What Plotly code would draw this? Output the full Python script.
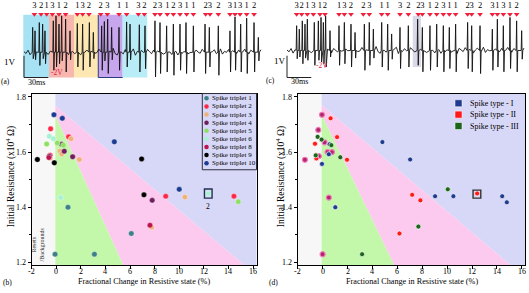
import plotly.graph_objects as go

W, H = 529, 293
SERIF = "Liberation Serif"

# ---------------- top panels (a) and (c): spike trains ----------------
SPIKE_LABELS = ["3", "2", "1", "3", "1", "2", "1", "3", "2", "2", "3", "1", "1", "3", "2",
                "2", "3", "1", "2", "3", "1", "1", "2", "3", "2", "3", "1", "3", "1", "2"]
A_MARK_T = [12.8, 21.0, 28.0, 35.0, 43.2, 51.4, 65.8, 72.4, 80.2, 94.7, 102.9, 117.3, 126.7,
            141.2, 148.6, 161.7, 167.9, 176.9, 184.4, 192.6, 200.8, 209.1, 224.3, 229.6,
            239.9, 254.3, 260.5, 266.7, 274.9, 284.0]
C_MARK_T = [11.9, 18.1, 25.1, 32.5, 40.7, 46.9, 64.2, 70.8, 79.0, 94.2, 101.6, 116.9, 124.3,
            139.5, 149.8, 162.1, 167.1, 176.5, 184.8, 193.0, 200.4, 208.2, 223.0, 228.0,
            238.3, 253.5, 259.7, 267.1, 275.3, 283.5]

A_SPIKE_T = [10.7, 13.6, 18.9, 23.0, 25.9, 36.2, 39.5, 43.2, 46.5, 51.4, 56.8, 65.8, 72.4, 80.7,
             85.6, 95.9, 99.2, 103.3, 108.2, 117.3, 126.7, 130.9, 142.4, 149.4, 161.7, 167.9,
             176.1, 184.4, 192.6, 200.0, 209.1, 223.5, 228.8, 239.9, 254.3, 260.5, 267.5,
             274.9, 284.0, 289.3]
A_SPIKE_UP = [1.14, 0.98, 1.36, 1.29, 0.98, 1.44, 1.67, 1.29, 1.67, 1.52, 0.98, 1.32, 1.29, 1.36,
              0.91, 1.21, 1.41, 1.52, 1.14, 1.14, 1.39, 1.29, 1.26, 1.21, 1.44, 1.36, 1.21, 1.29,
              1.29, 1.36, 1.21, 1.29, 1.14, 1.21, 0.98, 1.62, 1.29, 1.56, 1.36, 0.68]
A_SPIKE_DN = [-0.30, -0.35, -0.61, -0.30, -0.53, -0.83, -0.68, -0.53, -0.40, -0.91, -0.35, -0.68,
              -0.83, -0.68, -0.30, -0.83, -0.40, -0.98, -0.35, -0.83, -0.68, -0.35, -0.91, -0.76,
              -1.14, -0.98, -0.91, -1.06, -0.83, -0.98, -0.91, -0.98, -0.68, -1.06, -0.91, -0.83,
              -0.91, -0.98, -0.91, -0.40]

C_SPIKE_T = [11.9, 15.2, 18.9, 22.2, 25.1, 33.7, 38.7, 42.0, 44.9, 47.7, 53.1, 64.2, 70.8, 79.0,
             84.0, 95.5, 101.6, 106.6, 116.9, 124.3, 129.2, 139.5, 149.8, 161.3, 167.1, 176.5,
             184.8, 193.0, 200.4, 208.2, 223.0, 228.0, 238.3, 253.5, 259.7, 267.1, 275.3,
             283.5, 289.7]
C_SPIKE_UP = [1.14, 0.98, 1.36, 1.21, 1.44, 1.29, 1.36, 1.52, 1.29, 1.59, 0.91, 1.14, 1.29, 1.21,
              0.83, 1.21, 1.29, 0.98, 1.29, 1.21, 0.76, 1.06, 1.14, 1.44, 1.06, 1.14, 1.21, 1.14,
              1.06, 1.21, 1.29, 1.14, 1.14, 0.98, 1.44, 1.14, 1.52, 1.36, 0.91]
C_SPIKE_DN = [-0.38, -0.30, -0.61, -0.35, -0.45, -0.68, -0.45, -0.53, -0.61, -0.76, -0.30, -0.68,
              -0.61, -0.76, -0.35, -0.91, -0.68, -0.35, -0.76, -0.91, -0.40, -0.83, -0.76, -0.68,
              -0.98, -0.91, -0.76, -0.98, -0.83, -0.98, -0.83, -0.98, -1.06, -0.91, -0.76, -0.98,
              -0.83, -0.98, -0.40]

# baseline wiggle between spikes (V), one sample every 2.5 ms
JITTER_STEP_MS = 2.5
BASE_JITTER = [
    0.02, -0.06, 0.09, -0.12, 0.04, 0.11, -0.08, 0.01, -0.14, 0.06,
    0.13, -0.03, -0.10, 0.05, 0.16, -0.08, 0.02, -0.06, 0.12, -0.13,
    0.06, 0.00, -0.11, 0.09, 0.03, -0.07, 0.17, -0.03, -0.12, 0.07,
    -0.01, 0.10, -0.15, 0.04, 0.08, -0.05, -0.02, 0.14, -0.09, 0.03,
    0.11, -0.11, 0.05, -0.04, 0.18, -0.06, -0.13, 0.09, 0.01, -0.08,
    0.12, -0.02, -0.10, 0.06, 0.15, -0.14, 0.04, -0.05, 0.08, -0.01,
    -0.12, 0.13, 0.02, -0.07, 0.10, -0.15, 0.05, 0.07, -0.04, -0.09,
    0.14, -0.03, 0.01, -0.11, 0.09, 0.04, -0.13, 0.12, -0.06, 0.03,
    0.16, -0.08, -0.02, 0.06, -0.14, 0.10, 0.00, -0.05, 0.13, -0.10,
    0.05, 0.08, -0.12, 0.02, 0.11, -0.07, -0.03, 0.15, -0.09, 0.04,
    -0.01, 0.12, -0.15, 0.07, 0.03, -0.06, 0.10, -0.11, 0.01, 0.14,
    -0.04, -0.08, 0.09, -0.13, 0.06, 0.02, -0.10, 0.11]

# highlighted windows (ms)
A_BOX_T0 = [-0.9, 30.9, 61.7, 91.7, 121.8]
A_BOX_T1 = [30.9, 61.7, 91.7, 121.8, 152.2]
A_BOX_COLORS = ["#a6e2f4", "#f7b6ae", "#fde8b4", "#c8a6ee", "#b8ecf7"]
C_BOX_T = [155.2, 165.4]
SCALE_MS = 30
SCALE_V = 1

# ---------------- bottom panel (b): spike triplets ----------------
TRIPLET_NAMES = ["Spike triplet 1", "Spike triplet 2", "Spike triplet 3", "Spike triplet 4",
                 "Spike triplet 5", "Spike triplet 6", "Spike triplet 8", "Spike triplet 9",
                 "Spike triplet 10"]
TRIPLET_COLORS = ["#3f8088", "#ff2848", "#efb27a", "#6e1f5c", "#8ee064", "#a6f2d2",
                  "#c0124e", "#000000", "#1c3b92"]
TRIPLET_X = [
    [0.95, 6.1, -0.1, 3.1],
    [-0.46, 1.0, 8.9, 14.45, -0.5],
    [0.3, 0.44, 1.87, 10.46, -0.5, 1.2, 7.75],
    [0.44, 0.65, 1.33, 7.8, -0.57],
    [-0.78, 0.08, 0.57, 14.8],
    [-0.57, -0.24, 0.36, 12.36],
    [-0.6, 7.62],
    [-1.54, -0.16, 6.94, 7.13],
    [-0.19, 0.49, 4.72, 10.0],
]
TRIPLET_Y = [
    [1.40, 1.305, 1.23, 1.23],
    [1.684, 1.655, 1.44, 1.44, 1.588],
    [1.603, 1.593, 1.573, 1.437, 1.578, 1.648, 1.328],
    [1.628, 1.603, 1.583, 1.425, 1.585],
    [1.629, 1.633, 1.625, 1.42],
    [1.657, 1.648, 1.435, 1.45],
    [1.58, 1.335],
    [1.573, 1.561, 1.575, 1.445],
    [1.735, 1.722, 1.637, 1.465],
]

# ---------------- bottom panel (d): spike types ----------------
TYPE_NAMES = ["Spike type - I", "Spike type - II", "Spike type - III"]
TYPE_COLORS = ["#1f3b8f", "#ff1a1a", "#1b661b"]
TYPE_X = [
    [0.56, 0.5, -0.05, 4.8, 7.03, 9.03, 10.5, 14.42, 14.79, 1.02],
    [0.64, 1.16, -0.61, -0.5, 1.96, 7.19, 7.85, 12.41, 6.17],
    [-0.4, -0.08, 0.7, -0.55, 1.42, 10.05, 7.69, 3.17],
]
TYPE_Y = [
    [1.628, 1.592, 1.557, 1.636, 1.573, 1.44, 1.44, 1.44, 1.418, 1.40],
    [1.722, 1.654, 1.63, 1.577, 1.572, 1.445, 1.425, 1.45, 1.305],
    [1.655, 1.645, 1.625, 1.588, 1.581, 1.465, 1.33, 1.23],
]
MIXED_X = [-0.05, -0.35, 0.16, 0.4, 0.75, -0.3, -1.42, 0.5, 0.0]
MIXED_Y = [1.735, 1.68, 1.635, 1.6, 1.6, 1.585, 1.572, 1.435, 1.23]

# region boundaries: x of left edge, y where lines meet x=0, x where they meet the bottom
B_REGION = dict(x0=-0.08, pink_top=1.768, pink_bottom_x=15.3, green_top=1.732, green_bottom_x=5.45)
D_REGION = dict(x0=-0.08, pink_top=1.77, pink_bottom_x=15.1, green_top=1.735, green_bottom_x=5.75)

XR_B = [-2.0, 16.3]
XR_D = [-2.0, 16.25]
YR = [1.19, 1.81]
X_TICKS = [-2, 0, 2, 4, 6, 8, 10, 12, 14, 16]
HIGHLIGHT_X = 12.36
HIGHLIGHT_Y = 1.45

# ============================ build figure ============================
fig = go.Figure()

PX_PER_V = 22.0
A_TOP = 51.7 / PX_PER_V
C_TOP = 50.0 / PX_PER_V


def v_at(top, py):
    return top - py / PX_PER_V


def build_trace(spike_t, up, dn):
    pts = []
    for i, j in enumerate(BASE_JITTER):
        t = i * JITTER_STEP_MS
        if all(abs(t - s) > 1.6 for s in spike_t):
            pts.append((t, j))
    for s, u, d in zip(spike_t, up, dn):
        pts += [(s - 0.6, 0.0), (s, u), (s + 0.7, d), (s + 1.4, 0.0)]
    pts.sort()
    return [p[0] for p in pts], [p[1] for p in pts]


shapes = []
annotations = []


def ann(text, px, py, size, color="black", xanchor="center", angle=0):
    annotations.append(dict(text=text, x=px / W, y=1 - py / H, xref="paper", yref="paper",
                            showarrow=False, xanchor=xanchor, yanchor="middle", textangle=angle,
                            font=dict(family=SERIF, size=size, color=color)))


for ax, top, spikes, marks in [("", A_TOP, (A_SPIKE_T, A_SPIKE_UP, A_SPIKE_DN), A_MARK_T),
                               ("2", C_TOP, (C_SPIKE_T, C_SPIKE_UP, C_SPIKE_DN), C_MARK_T)]:
    xa, ya = "x" + ax, "y" + ax
    tx, ty = build_trace(*spikes)
    fig.add_trace(go.Scatter(x=tx, y=ty, mode="lines", line=dict(color="#111", width=0.9),
                             xaxis=xa, yaxis=ya, hoverinfo="skip", showlegend=False))
    fig.add_trace(go.Scatter(x=marks, y=[v_at(top, 13.5)] * len(marks), mode="markers",
                             marker=dict(symbol="triangle-down", size=5, color="#f0203c"),
                             xaxis=xa, yaxis=ya, hoverinfo="skip", showlegend=False))
    fig.add_trace(go.Scatter(x=marks, y=[v_at(top, 4.5)] * len(marks), mode="text",
                             text=SPIKE_LABELS, textfont=dict(family=SERIF, size=8.5, color="black"),
                             xaxis=xa, yaxis=ya, hoverinfo="skip", showlegend=False))
    # scale bar
    y_bar = v_at(top, 77.3)
    fig.add_trace(go.Scatter(x=[0, 0, SCALE_MS], y=[y_bar + SCALE_V, y_bar, y_bar], mode="lines",
                             line=dict(color="#222", width=1), xaxis=xa, yaxis=ya,
                             hoverinfo="skip", showlegend=False))

# coloured windows in (a)
for t0, t1, col in zip(A_BOX_T0, A_BOX_T1, A_BOX_COLORS):
    shapes.append(dict(type="rect", xref="x", yref="y", x0=t0, x1=t1,
                       y0=v_at(A_TOP, 77.3), y1=v_at(A_TOP, 14), fillcolor=col,
                       line=dict(width=0), layer="below"))
shapes.append(dict(type="path", xref="x", yref="y",
                   path=f"M {A_BOX_T0[3]},{v_at(A_TOP, 14)} L {A_BOX_T0[3]},{v_at(A_TOP, 77.3)} L {A_BOX_T1[3]},{v_at(A_TOP, 77.3)}",
                   line=dict(color="#2a3a80", width=1), layer="below"))
# grey window in (c)
shapes.append(dict(type="rect", xref="x2", yref="y2", x0=C_BOX_T[0], x1=C_BOX_T[1],
                   y0=v_at(C_TOP, 66.7), y1=v_at(C_TOP, 15), fillcolor="#d9d9e8",
                   line=dict(width=0), layer="below"))

# texts of top panels
ann("1V", 10, 62, 9)
ann("(a)", 5, 81, 7.5)
ann("30ms", 36, 82, 8)
ann("-2V", 57, 72, 7.5, color="#e0204a")
ann("1V", 280, 61, 9)
ann("(c)", 270, 80, 7.5)
ann("30ms", 299, 81, 8)
ann("-2V", 322, 65, 7.5, color="#e0204a")


# ---------------- bottom panels ----------------
def add_regions(reg, xr, xa, ya):
    x0 = reg["x0"]
    y0, y1 = YR
    polys = [
        ([xr[0], x0, x0, xr[0]], [y0, y0, y1, y1], "#f7f7f7"),
        ([x0, xr[1], xr[1], reg["pink_bottom_x"], x0],
         [y1, y1, y0, y0, reg["pink_top"]], "#d7d7f7"),
        ([x0, reg["pink_bottom_x"], reg["green_bottom_x"], x0],
         [reg["pink_top"], y0, y0, reg["green_top"]], "#fcc9ef"),
        ([x0, reg["green_bottom_x"], x0], [reg["green_top"], y0, y0], "#c3f7a9"),
    ]
    for px_, py_, col in polys:
        fig.add_trace(go.Scatter(x=px_, y=py_, fill="toself", fillcolor=col, mode="lines",
                                 line=dict(width=0, color=col), xaxis=xa, yaxis=ya,
                                 hoverinfo="skip", showlegend=False))


add_regions(B_REGION, XR_B, "x3", "y3")
add_regions(D_REGION, XR_D, "x4", "y4")

for name, col, xs, ys in zip(TRIPLET_NAMES, TRIPLET_COLORS, TRIPLET_X, TRIPLET_Y):
    fig.add_trace(go.Scatter(x=xs, y=ys, mode="markers", name=name,
                             marker=dict(size=5.5, color=col,
                                         line=dict(width=0.6, color="rgba(255,255,255,0.6)")),
                             xaxis="x3", yaxis="y3", showlegend=False))

fig.add_trace(go.Scatter(x=MIXED_X, y=MIXED_Y, mode="markers",
                         marker=dict(size=5, color="#b0246e", line=dict(width=1.2, color="#f27ab6")),
                         xaxis="x4", yaxis="y4", showlegend=False))
for name, col, xs, ys in zip(TYPE_NAMES, TYPE_COLORS, TYPE_X, TYPE_Y):
    fig.add_trace(go.Scatter(x=xs, y=ys, mode="markers", name=name,
                             marker=dict(size=5, color=col,
                                         line=dict(width=0.8, color="rgba(255,255,255,0.85)")),
                             xaxis="x4", yaxis="y4", showlegend=False))

# highlight squares
shapes.append(dict(type="rect", xref="x3", yref="y3", x0=HIGHLIGHT_X - 0.31, x1=HIGHLIGHT_X + 0.31,
                   y0=HIGHLIGHT_Y - 0.017, y1=HIGHLIGHT_Y + 0.016,
                   line=dict(color="#233050", width=1.4)))
shapes.append(dict(type="rect", xref="x4", yref="y4", x0=HIGHLIGHT_X - 0.28, x1=HIGHLIGHT_X + 0.34,
                   y0=HIGHLIGHT_Y - 0.017, y1=HIGHLIGHT_Y + 0.012,
                   line=dict(color="#333", width=1.4)))
annotations.append(dict(text="2", x=HIGHLIGHT_X, y=1.404, xref="x3", yref="y3", showarrow=False,
                        font=dict(family=SERIF, size=7.5, color="black")))
annotations.append(dict(text="Resets<br>/Backgrounds", x=-1.5, y=1.265, xref="x3", yref="y3",
                        showarrow=False, textangle=-90,
                        font=dict(family=SERIF, size=6, color="#333")))

# x tick labels placed just under the frame
for xa in ("x3", "x4"):
    for v in X_TICKS:
        annotations.append(dict(text=str(v), x=v, y=1 - 273 / H, xref=xa, yref="paper",
                                showarrow=False, yanchor="middle",
                                font=dict(family=SERIF, size=8, color="black")))

# manual legends drawn on a pixel-space overlay axis
LEG_B = dict(mx=206.5, tx=210.3, y0=98.3, dy=8.2)
LEG_D = dict(mx=458.5, tx=467.5, y0=103.3, dy=11.5)
fig.add_trace(go.Scatter(x=[LEG_B["mx"]] * len(TRIPLET_NAMES),
                         y=[LEG_B["y0"] + i * LEG_B["dy"] for i in range(len(TRIPLET_NAMES))],
                         mode="markers", marker=dict(size=4.5, color=TRIPLET_COLORS),
                         xaxis="x5", yaxis="y5", hoverinfo="skip", showlegend=False))
for i, name in enumerate(TRIPLET_NAMES):
    ann(name, LEG_B["tx"], LEG_B["y0"] + i * LEG_B["dy"], 7, xanchor="left")
shapes.append(dict(type="rect", xref="paper", yref="paper", x0=202.3 / W, x1=256.5 / W,
                   y0=1 - 170.5 / H, y1=1 - 93.5 / H, line=dict(color="#303040", width=1)))
fig.add_trace(go.Scatter(x=[LEG_D["mx"]] * len(TYPE_NAMES),
                         y=[LEG_D["y0"] + i * LEG_D["dy"] for i in range(len(TYPE_NAMES))],
                         mode="markers", marker=dict(symbol="square", size=7, color=TYPE_COLORS,
                                                     line=dict(width=1, color="rgba(255,255,255,0.5)")),
                         xaxis="x5", yaxis="y5", hoverinfo="skip", showlegend=False))
for i, name in enumerate(TYPE_NAMES):
    ann(name, LEG_D["tx"], LEG_D["y0"] + i * LEG_D["dy"], 8, xanchor="left")

# axis titles and panel letters
for cx in (143.5, 411.5):
    ann("Fractional Change in Resistive state (%)", cx, 283, 8.2)
ann("Initial Resistance (x10<sup>4</sup> Ω)", 10, 178, 9.5, angle=-90)
ann("Initial Resistance (x10<sup>4</sup> Ω)", 280, 178, 9.5, angle=-90)
ann("(b)", 7, 284, 7.5)
ann("(d)", 273, 284, 7.5)

hidden = dict(visible=False, showgrid=False, zeroline=False, fixedrange=True)
bottom_x = dict(showline=True, mirror=True, linecolor="black", linewidth=1, ticks="outside",
                ticklen=3, tickwidth=1, tickcolor="black", tickvals=X_TICKS,
                showticklabels=False, showgrid=False, zeroline=False)
bottom_y = dict(showline=True, mirror=True, linecolor="black", linewidth=1, ticks="outside",
                ticklen=3, tickwidth=1, tickcolor="black", tickvals=[1.2, 1.4, 1.6, 1.8],
                ticktext=["1.2", "1.4", "1.6", "1.8"], range=YR, showgrid=False, zeroline=False,
                minor=dict(tickvals=[1.3, 1.5, 1.7], ticks="outside", ticklen=2, tickcolor="black"),
                tickfont=dict(family=SERIF, size=8, color="black"))

fig.update_layout(
    width=W, height=H, autosize=False,
    margin=dict(l=0, r=0, t=0, b=0),
    paper_bgcolor="white", plot_bgcolor="rgba(0,0,0,0)",
    showlegend=False,
    xaxis=dict(domain=[0, 264 / W], range=[-24 / 0.81, 240 / 0.81], **hidden),
    yaxis=dict(domain=[1 - 90 / H, 1], range=[A_TOP - 90 / PX_PER_V, A_TOP], **hidden),
    xaxis2=dict(domain=[265 / W, 1], range=[-22 / 0.81, 242 / 0.81], anchor="y2", **hidden),
    yaxis2=dict(domain=[1 - 90 / H, 1], range=[C_TOP - 90 / PX_PER_V, C_TOP], anchor="x2", **hidden),
    xaxis3=dict(domain=[31.7 / W, 256.7 / W], range=XR_B, anchor="y3", **bottom_x),
    yaxis3=dict(domain=[1 - 267 / H, 1 - 94 / H], anchor="x3", **bottom_y),
    xaxis4=dict(domain=[297.7 / W, 525 / W], range=XR_D, anchor="y4", **bottom_x),
    yaxis4=dict(domain=[1 - 267 / H, 1 - 94 / H], anchor="x4", **bottom_y),
    xaxis5=dict(domain=[0, 1], range=[0, W], anchor="y5", **hidden),
    yaxis5=dict(domain=[0, 1], range=[H, 0], anchor="x5", **hidden),
    shapes=shapes,
    annotations=annotations,
)

fig.write_html("out.html", config={"displayModeBar": False},
               post_script="document.body.style.margin='0';document.body.style.overflow='hidden';")
